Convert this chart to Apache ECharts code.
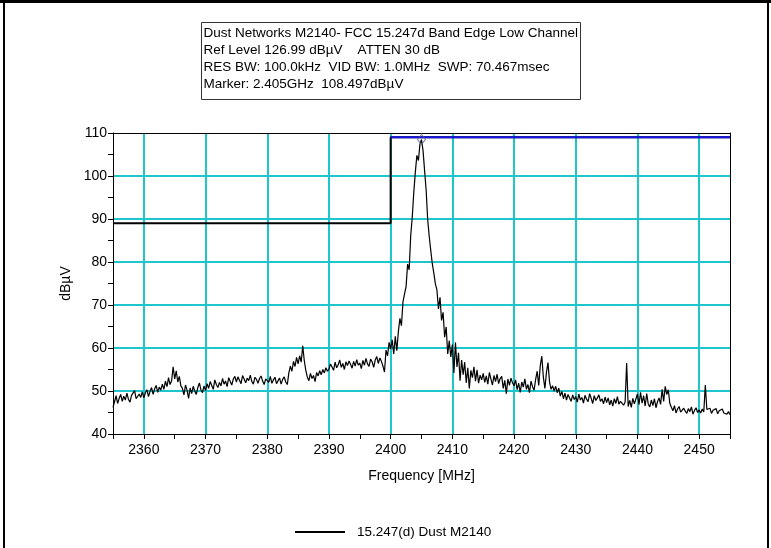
<!DOCTYPE html>
<html>
<head>
<meta charset="utf-8">
<title>Dust Networks M2140 - FCC 15.247d Band Edge Low Channel</title>
<script src="https://cdn.jsdelivr.net/npm/echarts@6/dist/echarts.min.js"></script>
<style>
  html, body { margin: 0; padding: 0; background: #ffffff; }
  #chart { width: 771px; height: 548px; }
</style>
</head>
<body>
<div id="chart"></div>
<script>
// Sweep settings of the analyser (MHz)
var sweepStartMHz = 2355;
var sweepStepMHz = 0.25;

// Measured trace level (dBµV), one value per sweep point, 5 MHz per row
var traceLevel = [
  46.2, 47.5, 48.9, 47.1, 48.3, 49.2, 47.6, 48.8, 47.9, 49.5, 48.1, 47.4, 49.0, 48.6, 50.1, 48.2, 47.8, 49.3, 48.5, 49.8, // 2355
  48.4, 49.6, 50.3, 48.7, 49.9, 50.8, 49.2, 50.5, 51.3, 49.7, 50.9, 50.2, 51.6, 50.4, 52.3, 51.0, 53.1, 51.5, 52.4, 55.6, // 2360
  52.8, 54.7, 52.1, 53.4, 51.2, 50.6, 49.1, 51.4, 50.2, 48.3, 50.7, 49.4, 51.1, 50.0, 49.2, 50.8, 51.9, 50.3, 49.6, 51.2, // 2365
  50.1, 51.7, 50.6, 52.2, 51.3, 50.4, 52.6, 51.5, 50.8, 52.0, 51.2, 52.9, 51.6, 52.3, 51.0, 53.1, 52.2, 51.4, 52.8, 53.4, // 2370
  52.1, 53.3, 52.5, 51.7, 53.6, 52.8, 51.9, 53.0, 52.4, 53.7, 52.2, 51.6, 53.2, 52.7, 51.8, 52.9, 53.5, 52.3, 51.5, 52.8, // 2375
  53.1, 52.0, 53.4, 51.8, 52.6, 53.2, 51.7, 52.4, 53.0, 51.6, 52.7, 53.3, 52.1, 51.5, 54.2, 55.8, 54.6, 56.9, 55.7, 57.8, // 2380
  56.3, 58.2, 56.7, 60.5, 57.1, 54.8, 53.2, 52.4, 54.1, 52.9, 53.6, 52.2, 54.3, 53.5, 54.7, 53.8, 55.0, 54.2, 55.4, 54.6, // 2385
  55.1, 56.3, 55.6, 54.8, 56.7, 55.4, 56.1, 57.2, 55.5, 56.4, 55.0, 56.8, 55.9, 57.0, 56.2, 55.3, 56.9, 55.8, 57.3, 56.0, // 2390
  56.5, 55.2, 57.1, 56.0, 57.6, 56.3, 55.7, 57.4, 56.8, 55.5, 57.2, 58.0, 56.4, 57.7, 56.9, 55.8, 54.4, 59.5, 58.2, 61.3, // 2395
  59.8, 61.9, 58.6, 62.7, 59.4, 63.8, 66.9, 65.2, 70.8, 72.6, 74.3, 79.5, 78.2, 86.1, 90.4, 96.2, 100.9, 104.8, 103.6, 107.4, // 2400
  108.497, 105.9, 101.3, 96.8, 89.9, 86.0, 82.7, 79.6, 77.4, 74.9, 73.5, 69.1, 71.8, 66.4, 68.3, 62.5, 64.9, 58.6, 61.7, 57.9, // 2405
  60.8, 54.2, 61.3, 55.6, 58.9, 52.4, 57.2, 53.8, 56.7, 51.9, 55.4, 50.6, 54.8, 53.1, 55.6, 52.3, 54.9, 51.8, 53.7, 52.6, // 2410
  54.1, 52.0, 53.5, 51.6, 54.3, 52.8, 51.4, 53.6, 52.2, 53.9, 51.7, 52.9, 53.4, 50.6, 52.5, 49.4, 52.8, 51.3, 53.0, 51.9, // 2415
  51.2, 52.6, 50.3, 51.8, 49.7, 52.1, 50.9, 52.8, 50.4, 51.5, 49.6, 52.3, 51.0, 50.2, 52.7, 54.6, 51.3, 55.9, 58.1, 53.2, // 2420
  50.6, 54.3, 56.6, 52.1, 50.4, 51.2, 50.0, 51.1, 49.6, 50.7, 48.8, 49.9, 48.2, 49.5, 47.9, 49.2, 48.4, 47.6, 49.1, 48.0, // 2425
  48.7, 47.4, 49.3, 47.9, 48.5, 47.2, 49.0, 48.1, 47.5, 49.4, 48.3, 47.1, 48.9, 47.8, 48.4, 49.1, 47.6, 48.2, 47.0, 48.6, // 2430
  47.3, 48.4, 46.8, 47.9, 46.5, 48.2, 47.1, 48.7, 46.9, 47.6, 48.0, 46.7, 47.4, 56.5, 46.4, 47.8, 46.2, 48.3, 47.0, 46.6, // 2435
  49.3, 46.8, 49.7, 47.2, 48.9, 46.5, 49.4, 47.0, 46.3, 47.9, 46.6, 48.2, 46.1, 47.5, 48.4, 46.9, 50.4, 47.6, 51.1, 49.2, // 2440
  50.3, 47.1, 46.2, 45.4, 46.6, 44.9, 45.8, 46.4, 45.1, 44.7, 46.0, 45.3, 44.8, 45.9, 45.2, 46.3, 44.6, 45.5, 46.1, 45.0, // 2445
  45.6, 44.9, 45.8, 45.1, 51.4, 45.7, 45.4, 46.0, 44.8, 45.5, 45.2, 45.9, 44.7, 45.4, 45.1, 45.8, 44.9, 45.3, 44.6, 45.2, 44.5 // 2450
];

// Band-edge limit line (-20 dBc below the display line), MHz / dBµV
var limitFreq = [2355, 2400, 2400, 2455];
var limitLevel = [89, 89, 109, 109];

// Display line across the in-band region
var displayFreq = [2400, 2455];
var displayLevel = [109, 109];

// Peak marker
var markerFreq = [2405];
var markerLevel = [108.497];

var headerLines = [
  'Dust Networks M2140- FCC 15.247d Band Edge Low Channel',
  'Ref Level 126.99 dB\u00b5V    ATTEN 30 dB',
  'RES BW: 100.0kHz  VID BW: 1.0MHz  SWP: 70.467msec',
  'Marker: 2.405GHz  108.497dB\u00b5V'
];

var traceName = '15.247(d) Dust M2140';

function pairs(xs, ys) {
  return xs.map(function (x, i) { return [x, ys[i]]; });
}

var traceData = traceLevel.map(function (v, i) {
  return [sweepStartMHz + i * sweepStepMHz, v];
});

var FONT = '"Liberation Sans", Arial, sans-serif';
var GRID_COLOR = '#1cc6cc';

var chart = echarts.init(document.getElementById('chart'), null, { renderer: 'canvas' });

chart.setOption({
  animation: false,
  backgroundColor: '#ffffff',
  textStyle: { fontFamily: FONT },
  grid: { left: 113, right: 41, top: 133, bottom: 114, containLabel: false },
  legend: {
    data: [traceName],
    left: 290,
    top: 520,
    icon: 'rect',
    itemWidth: 50,
    itemHeight: 2,
    itemStyle: { color: '#000000' },
    textStyle: { fontFamily: FONT, fontSize: 13.5, color: '#000000', padding: [0, 0, 0, 7] }
  },
  xAxis: [
    {
      type: 'value', position: 'bottom', min: 2355, max: 2455, splitNumber: 10,
      name: 'Frequency [MHz]', nameLocation: 'middle', nameGap: 35,
      nameTextStyle: { fontFamily: FONT, fontSize: 14, color: '#000000' },
      axisLine: { show: true, onZero: false, lineStyle: { color: '#000000', width: 1 } },
      axisTick: { show: false },
      axisLabel: {
        fontFamily: FONT, fontSize: 14, color: '#000000', margin: 9,
        showMinLabel: false, showMaxLabel: false,
        formatter: function (v) { return String(v); }
      },
      splitLine: { show: true, showMinLine: false, showMaxLine: false, lineStyle: { color: GRID_COLOR, width: 2 } }
    },
    {
      type: 'value', position: 'bottom', min: 2355, max: 2455, interval: 5,
      axisLine: { show: false, onZero: false },
      axisTick: { show: true, length: 5, lineStyle: { color: '#000000', width: 1 } },
      axisLabel: { show: false },
      splitLine: { show: false }
    },
    {
      type: 'value', position: 'top', min: 2355, max: 2455,
      axisLine: { show: true, onZero: false, lineStyle: { color: '#000000', width: 1 } },
      axisTick: { show: false }, axisLabel: { show: false }, splitLine: { show: false }
    }
  ],
  yAxis: [
    {
      type: 'value', position: 'left', min: 40, max: 110, interval: 10,
      name: 'dB\u00b5V', nameLocation: 'middle', nameGap: 34, nameRotate: 90,
      nameTextStyle: { fontFamily: FONT, fontSize: 14, color: '#000000' },
      axisLine: { show: true, onZero: false, lineStyle: { color: '#000000', width: 1 } },
      axisTick: { show: false },
      axisLabel: { fontFamily: FONT, fontSize: 14, color: '#000000', margin: 6 },
      splitLine: { show: true, showMinLine: false, showMaxLine: false, lineStyle: { color: GRID_COLOR, width: 2 } }
    },
    {
      type: 'value', position: 'left', min: 40, max: 110, interval: 5,
      axisLine: { show: false, onZero: false },
      axisTick: { show: true, length: 5, lineStyle: { color: '#000000', width: 1 } },
      axisLabel: { show: false },
      splitLine: { show: false }
    },
    {
      type: 'value', position: 'right', min: 40, max: 110,
      axisLine: { show: true, onZero: false, lineStyle: { color: '#000000', width: 1 } },
      axisTick: { show: false }, axisLabel: { show: false }, splitLine: { show: false }
    }
  ],
  series: [
    {
      name: 'limit', type: 'line', xAxisIndex: 0, yAxisIndex: 0,
      data: pairs(limitFreq, limitLevel),
      showSymbol: false, silent: true, z: 3,
      lineStyle: { color: '#000000', width: 2 }
    },
    {
      name: 'display line', type: 'line', xAxisIndex: 0, yAxisIndex: 0,
      data: pairs(displayFreq, displayLevel),
      showSymbol: false, silent: true, z: 4,
      lineStyle: { color: '#1414e6', width: 2 }
    },
    {
      name: traceName, type: 'line', xAxisIndex: 0, yAxisIndex: 0,
      data: traceData,
      showSymbol: false, z: 5,
      itemStyle: { color: '#000000' },
      lineStyle: { color: '#000000', width: 1.2 }
    },
    {
      name: 'marker', type: 'scatter', xAxisIndex: 0, yAxisIndex: 0,
      data: pairs(markerFreq, markerLevel),
      symbol: 'diamond', symbolSize: [8, 10], z: 6,
      itemStyle: { color: 'rgba(0,0,0,0)', borderColor: '#5a5a8c', borderWidth: 1 }
    }
  ],
  graphic: [
    // outer frame
    { type: 'rect', left: 0, top: 0, shape: { width: 771, height: 3 }, style: { fill: '#000000' }, silent: true },
    { type: 'rect', left: 3, top: 0, shape: { width: 2, height: 548 }, style: { fill: '#000000' }, silent: true },
    { type: 'rect', left: 767, top: 0, shape: { width: 2, height: 548 }, style: { fill: '#000000' }, silent: true },
    // measurement header box
    {
      type: 'group', left: 201, top: 22,
      children: [
        { type: 'rect', shape: { x: 0, y: 0, width: 379, height: 77 }, style: { fill: '#ffffff', stroke: '#333333', lineWidth: 1 } },
        {
          type: 'text', x: 2, y: 2,
          style: {
            text: headerLines.join('\n'),
            font: '13.5px ' + FONT,
            lineHeight: 17,
            fill: '#000000'
          }
        }
      ]
    }
  ]
});
</script>
</body>
</html>
